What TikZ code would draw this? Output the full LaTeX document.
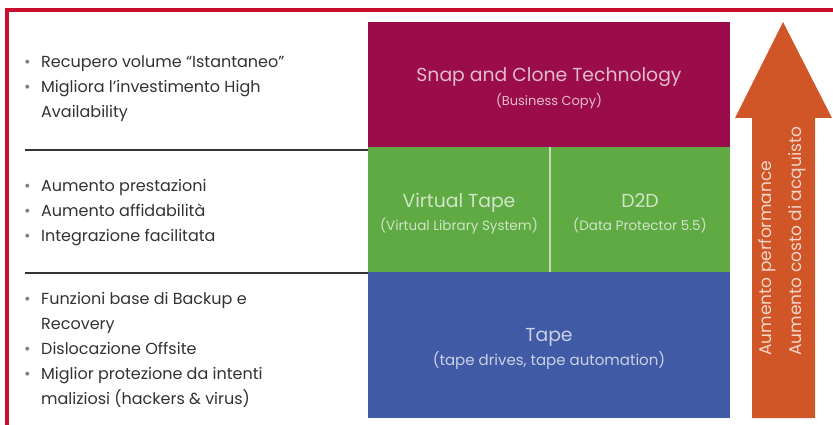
\documentclass[tikz,border=0pt]{standalone}
\usepackage{fontspec}
\setmainfont{Poppins}
\usetikzlibrary{positioning}

\definecolor{frame}{RGB}{200,16,46}
\definecolor{snapcol}{RGB}{155,12,75}
\definecolor{vtcol}{RGB}{96,170,68}
\definecolor{tapecol}{RGB}{64,90,165}
\definecolor{arrowcol}{RGB}{208,86,40}
\definecolor{txtcol}{RGB}{50,50,50}

\newcommand{\itm}[1]{\makebox[17pt][l]{\textcolor{gray}{\textbullet}}#1}
\newcommand{\cont}[1]{\hspace*{17pt}#1}

\tikzset{
  block/.style={rectangle, inner sep=0pt},
  lbl/.style={align=center, inner sep=0pt, yshift=-4pt, font=\fontsize{18.8}{25}\selectfont},
  bullets/.style={anchor=west, align=left, inner sep=0pt, text=txtcol,
    font=\fontsize{16}{25}\selectfont},
  sep/.style={black!80, line width=1.2pt}
}

\begin{document}
\begin{tikzpicture}[x=1pt, y=-1pt]
        \useasboundingbox (0,0) rectangle (833,425);

        % Frame
        \draw[frame, line width=4pt] (5,10) -- (833,10);
        \draw[frame, line width=4pt] (7,8) -- (7,425);

        % Blocks
        \node[block, fill=snapcol, minimum width=362pt, minimum height=125pt] (snap) at (549,84.5) {};
        \node[block, fill=vtcol, minimum width=182pt, minimum height=125pt] (vt) at (459,209.5) {};
        \node[block, fill=vtcol, minimum width=180pt, minimum height=125pt] (d2d) at (640,209.5) {};
        \node[block, fill=tapecol, minimum width=362pt, minimum height=146pt] (tape) at (549,345) {};
        \draw[white!60!vtcol, line width=1.5pt] (vt.north east) -- (vt.south east);

        % Labels
        \node[lbl, text=white!72!snapcol] (snaplbl) at (snap)
          {Snap and Clone Technology\\[-1pt]{\fontsize{13}{14}\selectfont (Business Copy)}};
        \node[lbl, text=white!70!vtcol] (vtlbl) at (vt)
          {Virtual Tape\\[-2pt]{\fontsize{13.5}{14}\selectfont (Virtual Library System)}};
        \node[lbl, text=white!70!vtcol] (d2dlbl) at (d2d)
          {D2D\\[-2pt]{\fontsize{13.5}{14}\selectfont (Data Protector 5.5)}};
        \node[lbl, text=white!72!tapecol] (tapelbl) at (tape)
          {Tape\\[-1pt]{\fontsize{15}{16}\selectfont (tape drives, tape automation)}};

        % Separators
        \coordinate (s1) at (25,150);
        \coordinate (s2) at (25,273);
        \draw[sep] (s1) -- (s1 -| vt.west);
        \draw[sep] (s2) -- (s2 -| tape.west);

        % Bullets
        \node[bullets] (g1) at (24,89) {\itm{Recupero volume ``Istantaneo''}\\
          \itm{Migliora l'investimento High}\\ \cont{Availability}};
        \node[bullets] (g2) at (24,213) {\itm{Aumento prestazioni}\\
          \itm{Aumento affidabilità}\\ \itm{Integrazione facilitata}};
        \node[bullets] (g3) at (24,349.5) {\itm{Funzioni base di Backup e}\\
          \cont{Recovery}\\ \itm{Dislocazione Offsite}\\
          \itm{Miglior protezione da intenti}\\ \cont{maliziosi (hackers \& virus)}};

        % Arrow
        \fill[arrowcol] (752,418) -- (752,118) -- (735,118) -- (783,22) -- (832,118)
          -- (815,118) -- (815,418) -- cycle;
        \node[rotate=90, anchor=west, align=left, text=white!75!arrowcol, inner sep=0pt,
          font=\fontsize{17}{30}\selectfont] (perf) at (782,356)
          {Aumento performance\\Aumento costo di acquisto};
    \end{tikzpicture}
\end{document}
